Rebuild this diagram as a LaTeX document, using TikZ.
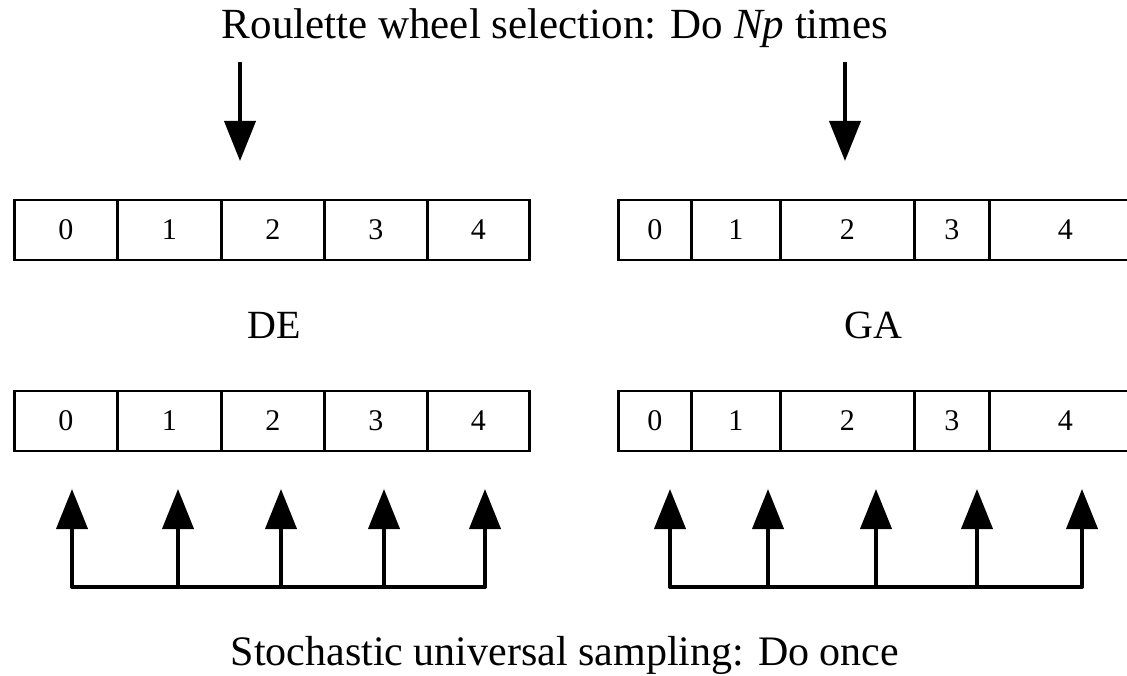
\documentclass[tikz,border=0pt]{standalone}
\usepackage{fontspec}
\setmainfont{Liberation Serif}
\usetikzlibrary{arrows.meta}
\begin{document}
\begin{tikzpicture}[x=1pt,y=-1pt,
  cell/.style={draw, line width=2.6pt, minimum height=60pt, inner sep=0pt, anchor=west,
               font=\fontsize{30}{32}\selectfont},
  lab/.style={font=\fontsize{43}{46}\selectfont, inner sep=0pt},
  sublab/.style={font=\fontsize{40}{42}\selectfont, inner sep=0pt},
  arr/.style={line width=4pt, -{Triangle[length=40pt,width=31pt]}},
  rail/.style={line width=4pt, line cap=round, line join=round}]
\useasboundingbox (0,0) rectangle (1127,676);

% titles
\node[lab] (top) at (555,28) {Roulette wheel selection: Do \textit{Np} times};
\node[lab, font=\fontsize{42}{46}\selectfont] (bot) at (565,655) {Stochastic universal sampling: Do once};
\node[sublab] (de) at (274,325) {DE};
\node[sublab] (ga) at (873,325) {GA};

% DE rows: equal slots
\foreach \r/\y in {t/230,b/421}{
  \foreach \i/\xa/\xb in {0/13/116,1/116/220,2/220/323,3/323/426,4/426/528}{
    \node[cell, minimum width={\xb-\xa}] (de\r\i) at (\xa,\y) {\i};
  }
}
% GA rows: slots sized by fitness
\foreach \r/\y in {t/230,b/421}{
  \foreach \i/\xa/\xb in {0/617/690,1/690/779,2/779/913,3/913/988,4/988/1140}{
    \node[cell, minimum width={\xb-\xa}] (ga\r\i) at (\xa,\y) {\i};
  }
}

% roulette wheel pointers
\coordinate (deptr) at (240,62);
\coordinate (gaptr) at (845,62);
\draw[arr] (deptr) -- (deptr |- 0,161);
\draw[arr] (gaptr) -- (gaptr |- 0,161);

% SUS pointer combs
\foreach \n/\xs in {de/{72,178,281,384,485}, ga/{670,768,876,977,1082}}{
  \foreach \x [count=\k] in \xs {
    \coordinate (\n rail\k) at (\x,587);
    \coordinate (\n tip\k) at (\x,489);
    \draw[arr] (\n rail\k) -- (\n tip\k);
  }
  \draw[rail] (\n rail1) -- (\n rail5);
}
\end{tikzpicture}
\end{document}
